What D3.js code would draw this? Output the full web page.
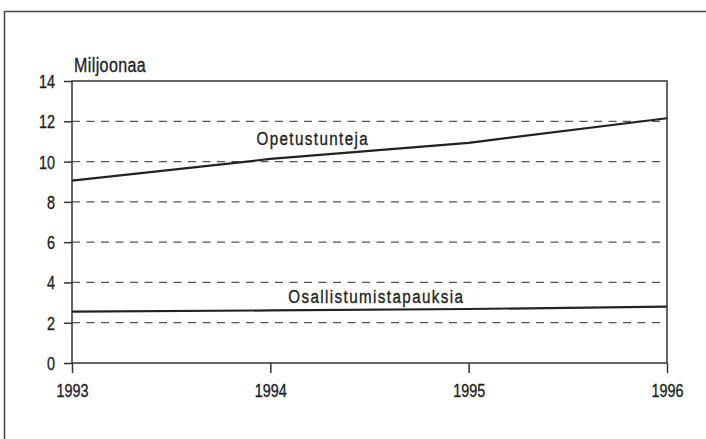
<!DOCTYPE html>
<html>
<head>
  <script src="https://d3js.org/d3.v7.min.js"></script>
  <style>
    body { margin: 0; background: #fff; }
    text { font-family: "Liberation Sans", Arial, sans-serif; fill: #222; stroke: #222; stroke-width: 0.35px; }
  </style>
</head>
<body>
  <svg id="chart" width="706" height="439"></svg>
  <script>
    const years = [1993, 1994, 1995, 1996];
    const opetustunteja = [9.05, 10.13, 10.93, 12.15];
    const osallistumistapauksia = [2.55, 2.61, 2.68, 2.8];
    const yTicks = [0, 2, 4, 6, 8, 10, 12, 14];
    const unitLabel = "Miljoonaa";
    const seriesLabels = ["Opetustunteja", "Osallistumistapauksia"];

    const svg = d3.select("svg#chart");
    const margin = { top: 81, right: 39, bottom: 76, left: 72 };
    const width = 706 - margin.left - margin.right;
    const height = 439 - margin.top - margin.bottom;
    const narrow = 0.8; // condensed look of the original typeface

    // outer frame (only top and left edges show)
    svg.append("path")
      .attr("d", "M4.5,439 L4.5,11.5 L706,11.5")
      .attr("fill", "none")
      .attr("stroke", "#444")
      .attr("stroke-width", 1.5);

    const g = svg.append("g")
      .attr("transform", "translate(" + margin.left + "," + margin.top + ")");

    const x = d3.scaleLinear().domain([1993, 1996]).range([0, width]);
    const y = d3.scaleLinear().domain([0, 14]).range([height, 0]);

    // dashed grid
    g.selectAll(".grid")
      .data(yTicks.filter(d => d > 0 && d < 14))
      .join("line")
      .attr("x1", 0).attr("x2", width)
      .attr("y1", d => y(d)).attr("y2", d => y(d))
      .attr("stroke", "#555")
      .attr("stroke-width", 1.2)
      .attr("stroke-dasharray", "8,6.5");

    // y axis
    const yAxis = g.append("g")
      .call(d3.axisLeft(y).tickValues(yTicks).tickSize(8).tickSizeOuter(0));
    yAxis.select(".domain").remove();
    yAxis.selectAll("line").attr("stroke", "#333").attr("stroke-width", 1.5);
    yAxis.selectAll("text")
      .attr("x", 0).attr("dy", "0.36em")
      .attr("transform", "translate(-17,0) scale(" + narrow + ",1)")
      .attr("font-size", 18).attr("fill", null)
      .style("font-family", null);

    // x axis
    const xAxis = g.append("g")
      .attr("transform", "translate(0," + height + ")")
      .call(d3.axisBottom(x).tickValues(years).tickFormat(d3.format("d")).tickSize(10).tickSizeOuter(0));
    xAxis.select(".domain").remove();
    xAxis.selectAll("line").attr("stroke", "#333").attr("stroke-width", 1.5);
    xAxis.selectAll("text")
      .attr("y", 34).attr("dy", 0)
      .attr("transform", "scale(" + narrow + ",1)")
      .attr("font-size", 18).attr("fill", null)
      .style("font-family", null);

    // plot box
    g.append("rect")
      .attr("x", 0).attr("y", 0)
      .attr("width", width).attr("height", height)
      .attr("fill", "none")
      .attr("stroke", "#333")
      .attr("stroke-width", 1.5);

    const line = d3.line()
      .x((d, i) => x(years[i]))
      .y(d => y(d));

    [opetustunteja, osallistumistapauksia].forEach(s => {
      g.append("path")
        .datum(s)
        .attr("d", line)
        .attr("fill", "none")
        .attr("stroke", "#222")
        .attr("stroke-width", 2.2);
    });

    function label(px, py, size, spacing, txt) {
      g.append("text")
        .attr("transform", "translate(" + px + "," + py + ") scale(" + narrow + ",1)")
        .attr("font-size", size)
        .attr("letter-spacing", spacing)
        .text(txt);
    }

    label(2, -9, 20, 0.5, unitLabel);
    label(x(1993.93), y(10.8), 19, 1.75, seriesLabels[0]);
    label(x(1994.09), y(3.0), 19, 1.75, seriesLabels[1]);
  </script>
</body>
</html>
